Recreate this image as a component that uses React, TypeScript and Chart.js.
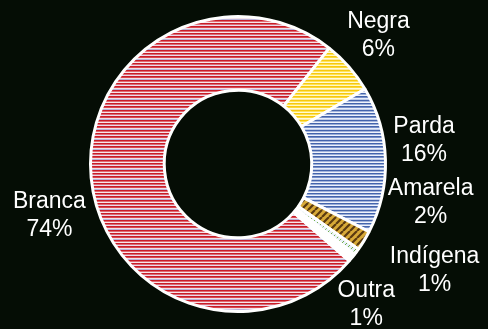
import React, { useEffect, useRef } from "react";
import { Chart, registerables } from "chart.js";

Chart.register(...registerables);

const categories = ["Branca", "Negra", "Parda", "Amarela", "Indígena", "Outra"];
const shares = [74.3, 5.9, 16.1, 2.2, 0.7, 0.9];
const percentLabels = ["74%", "6%", "16%", "2%", "1%", "1%"];

// label anchor placement (canvas angle in degrees, distance beyond outer radius)
const labelAngles = [164.7, -42.5, -7.2, 11.4, 28.4, 47.7];
const labelExtra = [48, 43, 40, 49, 76, 43];

function stripePattern(rows: string[]): CanvasPattern | string {
  const c = document.createElement("canvas");
  c.width = 4;
  c.height = rows.length;
  const ctx = c.getContext("2d")!;
  rows.forEach((col, i) => {
    ctx.fillStyle = col;
    ctx.fillRect(0, i, 4, 1);
  });
  const p = document.createElement("canvas").getContext("2d")!.createPattern(c, "repeat");
  return p || rows[0];
}

function diagPattern(bg: string, fg: string, size: number, lw: number): CanvasPattern | string {
  const c = document.createElement("canvas");
  c.width = size;
  c.height = size;
  const ctx = c.getContext("2d")!;
  ctx.fillStyle = bg;
  ctx.fillRect(0, 0, size, size);
  ctx.strokeStyle = fg;
  ctx.lineWidth = lw;
  ctx.beginPath();
  for (let k = -1; k <= 1; k++) {
    ctx.moveTo(k * size, size);
    ctx.lineTo(k * size + size, 0);
  }
  ctx.stroke();
  const p = ctx.createPattern(c, "repeat");
  return p || bg;
}

export default function App() {
  const ref = useRef<HTMLCanvasElement>(null);

  useEffect(() => {
    document.body.style.margin = "0";
    document.body.style.background = "#050d05";
    const canvas = ref.current!;
    const fills = [
      stripePattern([
        "#c81c28", "#e06a74", "#f6e6ea",
        "#c81c28", "#dc6a74", "#eadcee",
        "#c81c28", "#d84850", "#f2e0e6", "#b8b4dc",
      ]),
      stripePattern([
        "#f6c810", "#ffe45a", "#fffbd4",
        "#f6c810", "#ffe24e", "#fff8c8",
        "#f6c810", "#fcd838", "#fffbdc", "#fbe9a0",
      ]),
      stripePattern([
        "#4464ac", "#a6b6dc", "#f0f4fc",
        "#4464ac", "#9aaed8", "#eef2fc",
        "#4464ac", "#7890c8", "#e8eefa", "#c0cce8",
      ]),
      diagPattern("#d8aa38", "#5a3a10", 7, 2.2),
      diagPattern("#e8f0fa", "#70ad47", 5, 1),
      "#ffffff",
    ];

    const labelPlugin = {
      id: "outerLabels",
      afterDatasetsDraw(chart: any) {
        const meta = chart.getDatasetMeta(0);
        const ctx = chart.ctx;
        ctx.save();
        ctx.fillStyle = "#ffffff";
        ctx.font = '23px "Liberation Sans", Arial, sans-serif';
        ctx.textAlign = "center";
        ctx.textBaseline = "middle";
        meta.data.forEach((arc: any, i: number) => {
          const a = (labelAngles[i] * Math.PI) / 180;
          const r = arc.outerRadius + labelExtra[i];
          const x = arc.x + Math.cos(a) * r;
          const y = arc.y + Math.sin(a) * r;
          ctx.fillText(categories[i], x, y - 14);
          ctx.fillText(percentLabels[i], x, y + 14);
        });
        ctx.restore();
      },
    };

    const bgPlugin = {
      id: "bg",
      beforeDraw(chart: any) {
        const ctx = chart.ctx;
        ctx.save();
        ctx.fillStyle = "#050d05";
        ctx.fillRect(0, 0, chart.width, chart.height);
        ctx.restore();
      },
    };

    const chart = new Chart(canvas, {
      type: "doughnut",
      data: {
        labels: categories,
        datasets: [
          {
            data: shares,
            backgroundColor: fills as any,
            borderColor: "#ffffff",
            borderWidth: 3,
          },
        ],
      },
      options: {
        responsive: false,
        animation: false,
        rotation: 131,
        cutout: "50%",
        layout: { padding: { left: 89, right: 101, top: 15, bottom: 16 } },
        plugins: {
          legend: { display: false },
          tooltip: { enabled: false },
        },
      },
      plugins: [bgPlugin, labelPlugin],
    });
    return () => chart.destroy();
  }, []);

  return <canvas ref={ref} width={488} height={329} style={{ display: "block" }} />;
}
